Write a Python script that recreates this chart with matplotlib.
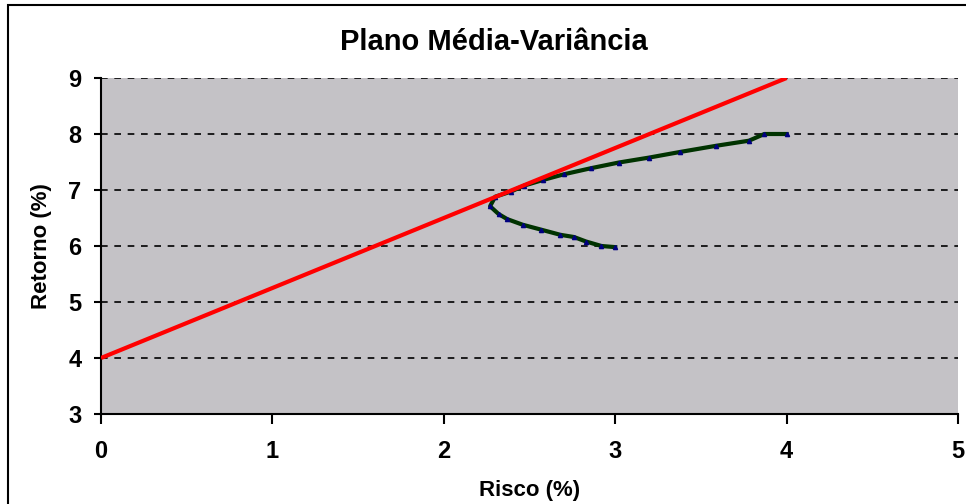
import numpy as np
import matplotlib
matplotlib.use("Agg")
import matplotlib.pyplot as plt
from matplotlib.patches import Rectangle

# frontier points (risk %, return %), bottom branch first
risco = [3.00, 2.92, 2.83, 2.76, 2.68, 2.57, 2.46, 2.37, 2.32, 2.27, 2.30,
         2.39, 2.47, 2.58, 2.70, 2.86, 3.02, 3.20, 3.38, 3.59, 3.78, 3.87, 4.00]
retorno = [5.98, 6.00, 6.08, 6.16, 6.20, 6.29, 6.38, 6.48, 6.57, 6.71, 6.88,
           6.97, 7.08, 7.18, 7.28, 7.39, 7.49, 7.58, 7.68, 7.79, 7.88, 8.00, 8.00]

# capital market line
cml_x = [0, 4]
cml_y = [4, 9]

x_ticks = [0, 1, 2, 3, 4, 5]
y_ticks = [3, 4, 5, 6, 7, 8, 9]

plt.rcParams['font.family'] = ['Liberation Sans', 'DejaVu Sans']

fig = plt.figure(figsize=(9.66, 5.04), dpi=100)
fig.patch.set_facecolor('white')

# outer chart frame (runs off the right and bottom edges)
fig.patches.append(Rectangle((8 / 966, -0.2), 1.2, 1.2 - 5 / 504,
                             transform=fig.transFigure, fill=False,
                             edgecolor='black', linewidth=1.5))

ax = fig.add_axes([101 / 966, 1 - 414 / 504, 857 / 966, 336 / 504])
ax.set_facecolor('#c4c2c6')

ax.set_xlim(0, 5)
ax.set_ylim(3, 9)
ax.set_xticks(x_ticks)
ax.set_yticks(y_ticks)

for y in y_ticks[1:]:
    ax.axhline(y, color='black', linestyle=(0, (4, 4)), linewidth=1.2, zorder=1)

ax.plot(risco, retorno, color='#003300', linewidth=3, zorder=3,
        marker='^', markersize=3, markerfacecolor='#000080', markeredgecolor='#000080')
ax.plot(cml_x, cml_y, color='red', linewidth=3, zorder=4, solid_capstyle='butt')

for side in ['top', 'right']:
    ax.spines[side].set_visible(False)
for side in ['left', 'bottom']:
    ax.spines[side].set_linewidth(1.5)

ax.tick_params(axis='both', direction='out', width=1.5, labelsize=17)
ax.tick_params(axis='x', length=7, pad=12)
ax.tick_params(axis='y', length=5, pad=9)
for lbl in ax.get_xticklabels() + ax.get_yticklabels():
    lbl.set_fontweight('bold')

ax.set_xlabel('Risco (%)', fontsize=16, fontweight='bold', labelpad=12)
ax.set_ylabel('Retorno (%)', fontsize=16, fontweight='bold', labelpad=12)
fig.text(494 / 966, 1 - 42 / 504, 'Plano Média-Variância', ha='center', va='center',
         fontsize=21, fontweight='bold')

fig.savefig('out.png', dpi=100)
